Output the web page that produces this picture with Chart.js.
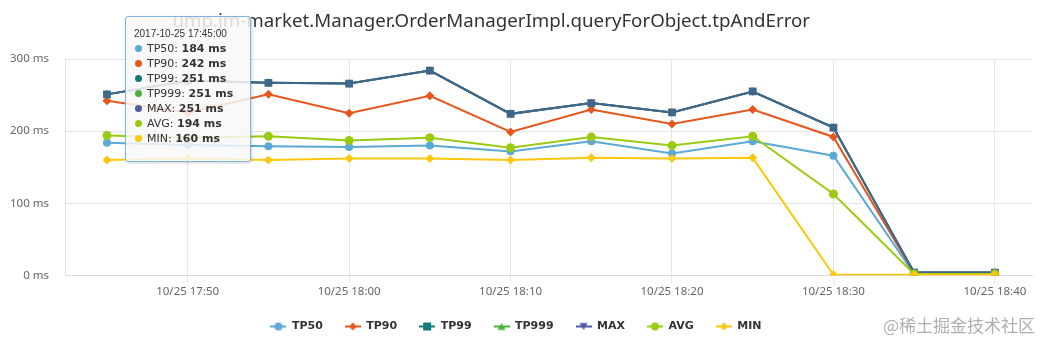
<!DOCTYPE html>
<html>
<head>
<meta charset="utf-8">
<script src="https://cdn.jsdelivr.net/npm/chart.js@4.4.1/dist/chart.umd.min.js"></script>
<style>
    html, body { margin: 0; padding: 0; background: #fff; }
    #wrap { position: relative; width: 1042px; height: 346px; }
    #tip {
        position: absolute; display: none;
        padding: 10px 17px 15px 8px;
        background: rgba(248, 248, 248, 0.85);
        border: 1px solid #7db6da; border-radius: 3px;
        box-shadow: 1px 1px 3px rgba(0, 0, 0, 0.18);
        font-family: "DejaVu Sans", sans-serif; font-size: 11px; color: #333;
        white-space: nowrap; pointer-events: none;
    }
    #tip .date { font-family: "Liberation Sans Narrow", "Liberation Sans", sans-serif; font-size: 10px; line-height: 14px; }
    #tip .row { line-height: 15px; }
    #tip .dot { display: inline-block; width: 7px; height: 7px; border-radius: 50%; margin: 0 5px 0 1px; }
</style>
</head>
<body>
<div id="wrap">
    <canvas id="latencyChart" width="1042" height="346"></canvas>
    <div id="tip"></div>
</div>
<script>
(function () {
    'use strict';

    // chart data
    const chartTitle = 'ump.jm-market.Manager.OrderManagerImpl.queryForObject.tpAndError';
    const watermark = '@稀土掘金技术社区';
    const dateText = '2017-10-25';
    const times = ['17:45', '17:50', '17:55', '18:00', '18:05', '18:10', '18:15', '18:20', '18:25', '18:30', '18:35', '18:40'];
    const xTickLabels = ['10/25 17:50', '10/25 18:00', '10/25 18:10', '10/25 18:20', '10/25 18:30', '10/25 18:40'];
    const yTicks = [0, 100, 200, 300];
    const seriesNames = ['TP50', 'TP90', 'TP99', 'TP999', 'MAX', 'AVG', 'MIN'];

    const tp50 = [184, 181, 179, 178, 180, 172, 186, 169, 186, 166, 2, 2];
    const tp90 = [242, 226, 251, 225, 249, 199, 230, 210, 230, 192, 3, 3];
    const tp99 = [251, 270, 267, 266, 284, 224, 239, 226, 255, 205, 4, 4];
    const tp999 = [251, 270, 267, 266, 284, 224, 239, 226, 255, 205, 4, 4];
    const maxVals = [251, 270, 267, 266, 284, 224, 239, 226, 255, 205, 4, 4];
    const avgVals = [194, 191, 193, 187, 191, 177, 192, 180, 193, 113, 2, 2];
    const minVals = [160, 162, 160, 162, 162, 160, 163, 162, 163, 1, 1, 1];
    const seriesValues = [tp50, tp90, tp99, tp999, maxVals, avgVals, minVals];

    // look of each series (plot colour, legend colour, marker)
    const lineColors = ['#5aa9d6', '#e8561f', '#3d6889', '#4cb03c', '#4f5aa2', '#9acb12', '#fcc80e'];
    const legendColors = ['#5aa9d6', '#e8561f', '#127b7b', '#4cb03c', '#4f5aa2', '#9acb12', '#fcc80e'];
    const markers = ['circle', 'rectRot', 'rect', 'triangle', 'triangle', 'circle', 'rectRot'];
    const markerRadius = [4, 4.5, 5.5, 4.5, 4.5, 4.5, 4.5];
    const markerRotation = [0, 0, 0, 0, 180, 0, 0];
    const drawOrder = [6, 5, 2, 4, 3, 1, 0];

    function toMinutes(t) {
        const p = t.split(':');
        return Number(p[0]) * 60 + Number(p[1]);
    }

    const xTickValues = xTickLabels.map(function (l) { return toMinutes(l.split(' ')[1]); });

    function makeLegendIcon(i) {
        const c = document.createElement('canvas');
        c.width = 16;
        c.height = 10;
        const ctx = c.getContext('2d');
        ctx.strokeStyle = legendColors[i];
        ctx.fillStyle = legendColors[i];
        ctx.lineWidth = 2;
        ctx.beginPath();
        ctx.moveTo(0, 5);
        ctx.lineTo(16, 5);
        ctx.stroke();
        ctx.beginPath();
        const s = markers[i];
        if (s === 'circle') {
            ctx.arc(8, 5, 4, 0, Math.PI * 2);
        } else if (s === 'rectRot') {
            ctx.moveTo(8, 1); ctx.lineTo(12, 5); ctx.lineTo(8, 9); ctx.lineTo(4, 5);
        } else if (s === 'rect') {
            ctx.rect(4, 1, 8, 8);
        } else if (markerRotation[i] === 180) {
            ctx.moveTo(4, 1.5); ctx.lineTo(12, 1.5); ctx.lineTo(8, 8.5);
        } else {
            ctx.moveTo(8, 1.5); ctx.lineTo(12, 8.5); ctx.lineTo(4, 8.5);
        }
        ctx.closePath();
        ctx.fill();
        return c;
    }

    const legendIcons = seriesNames.map(function (n, i) { return makeLegendIcon(i); });

    const datasets = seriesNames.map(function (name, i) {
        return {
            label: name,
            data: times.map(function (t, k) { return { x: toMinutes(t), y: seriesValues[i][k] }; }),
            borderColor: lineColors[i],
            backgroundColor: lineColors[i],
            borderWidth: 2,
            pointStyle: markers[i],
            pointRadius: markerRadius[i],
            pointRotation: markerRotation[i],
            pointBorderWidth: 0,
            order: drawOrder[i],
            tension: 0
        };
    });

    function renderTip(context) {
        const tip = document.getElementById('tip');
        const model = context.tooltip;
        if (!model || model.opacity === 0 || !model.dataPoints || !model.dataPoints.length) {
            tip.style.display = 'none';
            return;
        }
        const points = model.dataPoints.slice().sort(function (a, b) { return a.datasetIndex - b.datasetIndex; });
        let html = '<div class="date">' + dateText + ' ' + times[points[0].dataIndex] + ':00</div>';
        points.forEach(function (p) {
            html += '<div class="row"><span class="dot" style="background:' + legendColors[p.datasetIndex] + '"></span>' +
                seriesNames[p.datasetIndex] + ': <b>' + p.parsed.y + ' ms</b></div>';
        });
        tip.innerHTML = html;
        tip.style.display = 'block';
        tip.style.left = (model.caretX + 18) + 'px';
        tip.style.top = '16px';
    }

    const captionPlugin = {
        id: 'caption',
        afterDraw: function (chart) {
            const ctx = chart.ctx;
            ctx.save();
            ctx.textBaseline = 'middle';
            ctx.textAlign = 'right';
            ctx.fillStyle = '#333333';
            ctx.font = '18.7px "Noto Sans"';
            ctx.fillText(chartTitle, 810, 22);
            ctx.fillStyle = '#b0b0b0';
            ctx.font = '17px "Noto Sans CJK SC"';
            ctx.fillText(watermark, 1035, 326);
            ctx.restore();
        }
    };

    const chart = new Chart(document.getElementById('latencyChart'), {
        type: 'line',
        data: { datasets: datasets },
        plugins: [captionPlugin],
        options: {
            responsive: false,
            animation: false,
            events: [],
            devicePixelRatio: 1,
            layout: { padding: { left: 0, right: 10, top: 59, bottom: 4 } },
            scales: {
                x: {
                    type: 'linear',
                    min: 1062.4,
                    max: 1122.3,
                    afterBuildTicks: function (axis) {
                        axis.ticks = xTickValues.map(function (v) { return { value: v }; });
                    },
                    afterFit: function (axis) { axis.height = 23.5; },
                    ticks: {
                        padding: 1,
                        color: '#666',
                        font: { family: 'Noto Sans', size: 11.5 },
                        maxRotation: 0,
                        callback: function (v) { return xTickLabels[xTickValues.indexOf(v)]; }
                    },
                    grid: { color: '#e6e6e6', tickLength: 8 },
                    border: { color: '#d8dce3' }
                },
                y: {
                    min: 0,
                    max: 300,
                    afterBuildTicks: function (axis) {
                        axis.ticks = yTicks.map(function (v) { return { value: v }; });
                    },
                    afterFit: function (axis) { axis.width = 65; },
                    ticks: {
                        padding: 16,
                        color: '#666',
                        font: { family: 'Noto Sans', size: 11.5 },
                        callback: function (v) { return v + ' ms'; }
                    },
                    grid: { color: '#e6e6e6', drawTicks: false },
                    border: { color: '#e0e0e0' }
                }
            },
            plugins: {
                title: { display: false },
                legend: {
                    position: 'bottom',
                    labels: {
                        usePointStyle: true,
                        pointStyleWidth: 16,
                        padding: 22,
                        color: '#333',
                        font: { family: 'DejaVu Sans', size: 11, weight: 'bold' },
                        sort: function (a, b) { return a.datasetIndex - b.datasetIndex; },
                        generateLabels: function (c) {
                            const items = Chart.defaults.plugins.legend.labels.generateLabels(c);
                            items.forEach(function (item) {
                                item.pointStyle = legendIcons[item.datasetIndex];
                                item.rotation = 0;
                            });
                            return items;
                        }
                    }
                },
                tooltip: {
                    enabled: false,
                    mode: 'index',
                    intersect: false,
                    external: renderTip
                }
            }
        }
    });

    chart.tooltip.setActiveElements(
        seriesNames.map(function (n, i) { return { datasetIndex: i, index: 0 }; }),
        { x: chart.scales.x.getPixelForValue(toMinutes(times[0])), y: chart.scales.y.getPixelForValue(tp90[0]) }
    );
    chart.update();
})();
</script>
</body>
</html>
